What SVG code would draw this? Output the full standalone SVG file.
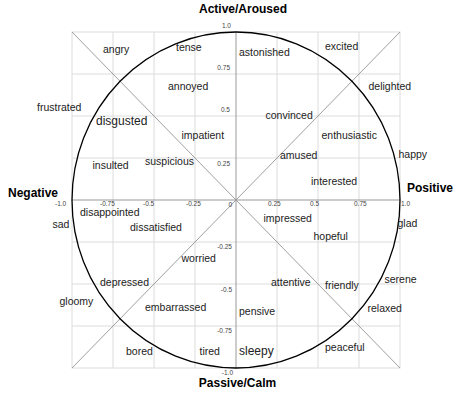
<svg xmlns="http://www.w3.org/2000/svg" width="453" height="394" viewBox="0 0 453 394">
<style>
.grid{stroke:#dcdcdc;stroke-width:1;fill:none}
.diag{stroke:#a0a0a0;stroke-width:1;fill:none}
.axis{stroke:#999;stroke-width:1;fill:none}
.circ{stroke:#000;stroke-width:1.3;fill:none}
.tick{font-family:"Liberation Sans",Arial,sans-serif;font-size:6.5px;fill:#444}
.emo{font-family:"Liberation Sans",Arial,sans-serif;font-size:10.5px;fill:#222}
.big{font-size:12px}
.ttl{font-family:"Liberation Sans",Arial,sans-serif;font-size:12px;font-weight:bold;fill:#000}
</style>
<rect width="453" height="394" fill="#fff"/>
<g id="grid">
<path class="grid" d="M113 32V368M154 32V368M195 32V368M277 32V368M318 32V368M359 32V368M72 74H400M72 116H400M72 158H400M72 242H400M72 284H400M72 326H400"/>
<rect class="grid" x="72" y="32" width="328" height="336" stroke="#cfcfcf"/>
</g>
<g id="connectors">
<path class="diag" d="M72 32L400 368M72 368L400 32"/>
<path class="axis" d="M236 32V368M72 200H400"/>
</g>
<ellipse id="circle" class="circ" cx="236" cy="200" rx="164" ry="168"/>
<g id="ticks" class="tick">
<text x="231" y="28" text-anchor="end">1.0</text>
<text x="230" y="70" text-anchor="end">0.75</text>
<text x="230" y="112" text-anchor="end">0.5</text>
<text x="230" y="166" text-anchor="end">0.25</text>
<text x="232" y="206.5" text-anchor="end">0</text>
<text x="232" y="249" text-anchor="end">-0.25</text>
<text x="232" y="292" text-anchor="end">-0.5</text>
<text x="232" y="333" text-anchor="end">-0.75</text>
<text x="233" y="375" text-anchor="end">-1.0</text>
<text x="55" y="206">-1.0</text>
<text x="100" y="206">-0.75</text>
<text x="143" y="206">-0.5</text>
<text x="186" y="206">-0.25</text>
<text x="268" y="206">0.25</text>
<text x="310" y="206">0.5</text>
<text x="354" y="206">0.75</text>
<text x="401" y="206">1.0</text>
</g>
<g id="titles" class="ttl">
<text x="243" y="13" text-anchor="middle">Active/Aroused</text>
<text x="237.5" y="387" text-anchor="middle">Passive/Calm</text>
<text x="8" y="197">Negative</text>
<text x="407" y="192">Positive</text>
</g>
<g id="emotions" class="emo">
<text id="angry" x="103" y="53">angry</text>
<text id="tense" x="176" y="51">tense</text>
<text id="annoyed" x="168" y="90">annoyed</text>
<text id="frustrated" x="37" y="110.5">frustrated</text>
<text id="disgusted" class="big" x="96" y="125">disgusted</text>
<text id="impatient" x="181.5" y="138.5">impatient</text>
<text id="insulted" x="92.5" y="168.5">insulted</text>
<text id="suspicious" x="145" y="164.5">suspicious</text>
<text id="astonished" x="239" y="56">astonished</text>
<text id="excited" x="325" y="50">excited</text>
<text id="delighted" x="368.5" y="89.5">delighted</text>
<text id="convinced" x="265.5" y="118.5">convinced</text>
<text id="enthusiastic" x="321.5" y="138.5">enthusiastic</text>
<text id="amused" x="280" y="158.5">amused</text>
<text id="happy" x="398.5" y="157.5">happy</text>
<text id="interested" x="311" y="185">interested</text>
<text id="disappointed" x="80" y="215.5">disappointed</text>
<text id="sad" x="52.5" y="227.5">sad</text>
<text id="dissatisfied" x="130" y="231">dissatisfied</text>
<text id="worried" x="181.5" y="261.5">worried</text>
<text id="depressed" x="100" y="285.5">depressed</text>
<text id="gloomy" x="59.5" y="305">gloomy</text>
<text id="embarrassed" x="145" y="311">embarrassed</text>
<text id="bored" x="126" y="354.5">bored</text>
<text id="tired" x="199.5" y="354.5">tired</text>
<text id="impressed" x="263.5" y="221.5">impressed</text>
<text id="glad" x="397.5" y="226.5">glad</text>
<text id="hopeful" x="313.5" y="240">hopeful</text>
<text id="serene" x="384.5" y="282.5">serene</text>
<text id="attentive" x="271" y="285.5">attentive</text>
<text id="friendly" x="325" y="288.5">friendly</text>
<text id="relaxed" x="367.5" y="311.5">relaxed</text>
<text id="pensive" x="239" y="314.5">pensive</text>
<text id="peaceful" x="325" y="350.5">peaceful</text>
<text id="sleepy" class="big" x="239" y="355">sleepy</text>
</g>
</svg>
